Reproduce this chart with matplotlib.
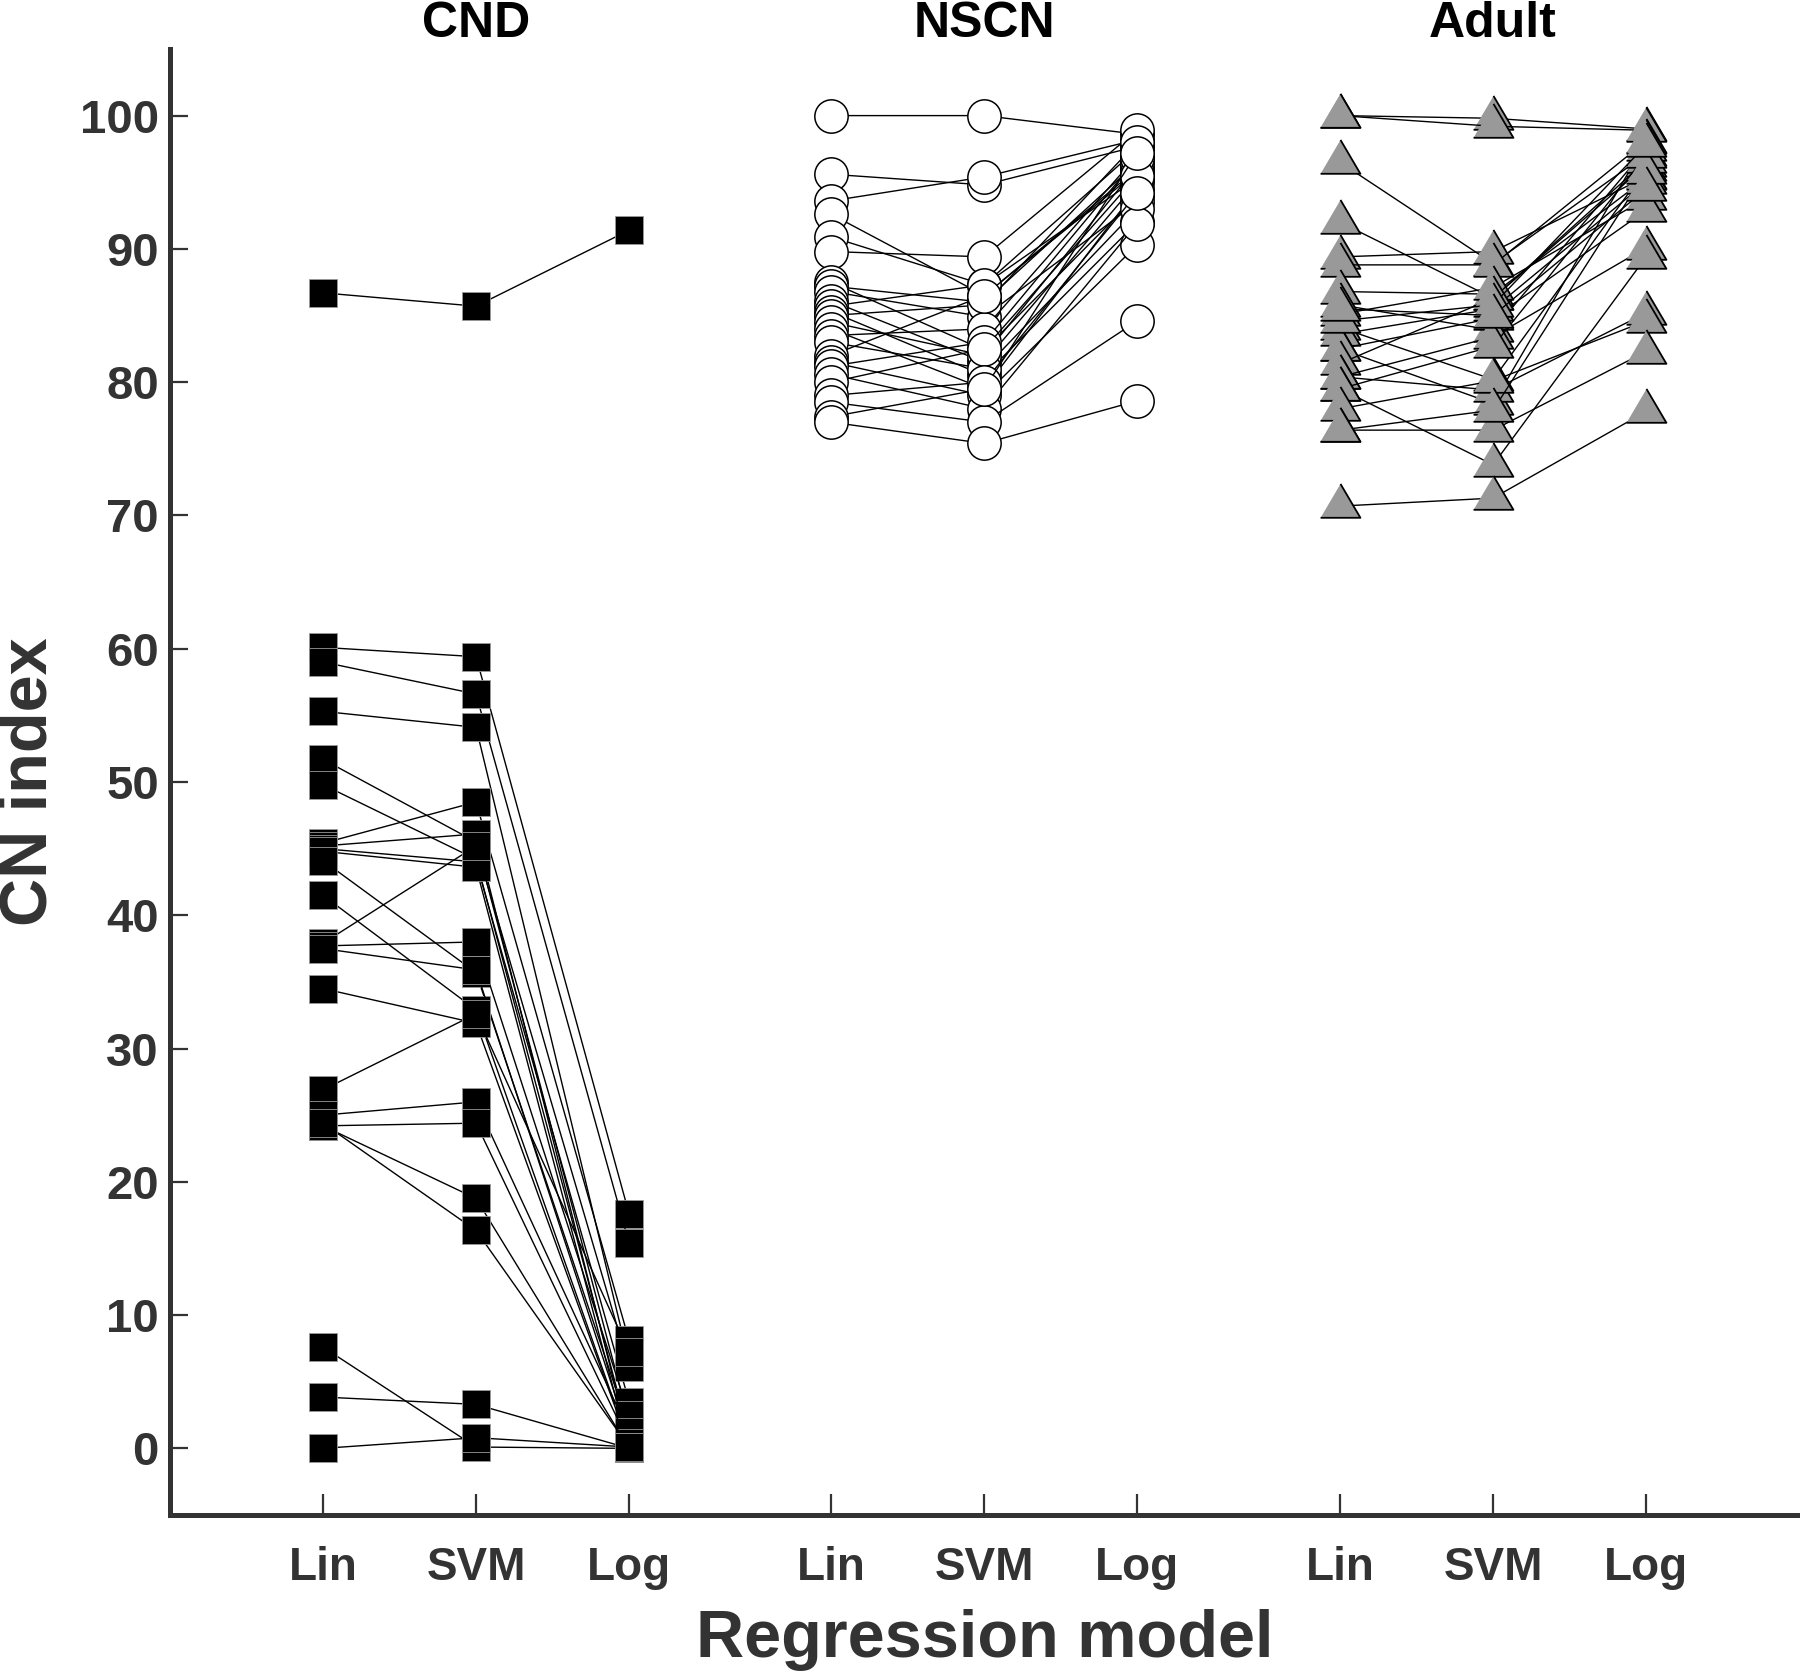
import numpy as np
import matplotlib
matplotlib.use('Agg')
import matplotlib.pyplot as plt

plt.rcParams['font.family'] = ['Liberation Sans', 'DejaVu Sans']

groups = ['CND', 'NSCN', 'Adult']
models = ['Lin', 'SVM', 'Log']

# CN index per subject (Lin, SVM, Log)
cnd_lin = [86.7, 60.1, 59.0, 55.3, 51.7, 49.8, 45.4, 45.2, 45.0, 44.8, 44.1, 41.5,
           37.9, 37.7, 37.5, 34.5, 26.9, 25.0, 24.2, 24.2, 24.4, 7.6, 3.85, 0.0]
cnd_svm = [85.7, 59.4, 56.6, 54.1, 45.5, 44.2, 48.5, 46.1, 44.0, 43.6, 35.7, 32.9,
           45.2, 38.0, 35.9, 31.9, 32.6, 26.0, 24.4, 18.75, 16.35, 0.1, 3.3, 0.8]
cnd_log = [91.4, 17.6, 15.4, 6.5, 2.0, 1.0, 8.1, 0.5, 3.5, 0.0, 1.5, 0.3,
           6.1, 2.5, 0.8, 0.2, 7.2, 1.2, 0.4, 0.0, 0.1, 0.0, 0.0, 0.1]

nscn_lin = [100.0, 95.6, 93.6, 92.6, 90.9, 89.8, 87.5, 87.2, 86.8, 86.1, 85.7, 85.3, 85.0,
            84.5, 84.0, 83.5, 83.0, 82.0, 81.5, 81.2, 80.6, 80.0, 79.0, 78.5, 77.4, 77.0]
nscn_svm = [100.0, 94.8, 95.4, 86.5, 87.3, 89.4, 82.4, 86.0, 84.9, 81.5, 87.3, 80.5, 85.8,
            82.0, 79.5, 84.0, 81.0, 86.5, 79.0, 83.0, 78.0, 82.5, 80.0, 77.0, 79.5, 75.4]
nscn_log = [98.6, 97.7, 98.2, 96.0, 95.3, 98.9, 94.0, 96.5, 93.5, 95.0, 97.5, 92.0, 98.0,
            96.2, 94.5, 97.0, 93.0, 95.8, 90.3, 96.8, 91.9, 95.5, 94.2, 84.6, 97.2, 78.6]

adult_lin = [100.0, 100.0, 96.5, 92.0, 89.4, 88.8, 86.8, 85.8, 85.1, 84.1, 83.6, 82.5,
             82.5, 81.4, 80.4, 80.4, 79.5, 79.5, 78.0, 76.4, 76.4, 70.7, 84.6, 85.5]
adult_svm = [99.8, 99.2, 88.9, 86.3, 89.8, 88.8, 86.6, 83.9, 87.1, 80.2, 85.5, 84.8,
             78.4, 86.3, 83.4, 79.4, 73.8, 82.7, 80.1, 76.4, 77.9, 71.3, 85.8, 85.0]
adult_log = [99.0, 98.9, 97.1, 96.3, 95.4, 98.1, 95.3, 97.5, 93.8, 96.0, 95.0, 92.9,
             98.0, 96.6, 90.1, 85.2, 89.4, 97.0, 84.6, 82.3, 95.8, 77.8, 97.8, 94.5]

xpos = [[1, 2, 3], [4.32, 5.32, 6.32], [7.645, 8.645, 9.645]]

# triangle with its centroid on the data point
tri = [(-1, -0.567), (1, -0.567), (0, 1.133)]

fig = plt.figure(figsize=(18, 16.77), dpi=100)
ax = fig.add_axes([0.0944, 0.0966, 0.9056, 0.8742])

data = [(cnd_lin, cnd_svm, cnd_log), (nscn_lin, nscn_svm, nscn_log),
        (adult_lin, adult_svm, adult_log)]
styles = [dict(marker='s', markersize=19.5, markerfacecolor='black', markeredgecolor='#9a9a9a', markeredgewidth=0.6),
          dict(marker='o', markersize=24, markerfacecolor='white', markeredgecolor='black', markeredgewidth=1.1),
          dict(marker=tri, markersize=32.5, markerfacecolor='#999999', markeredgecolor='black', markeredgewidth=1.3)]

for g in range(3):
    lin, svm, log = data[g]
    for i in range(len(lin)):
        ax.plot(xpos[g], [lin[i], svm[i], log[i]], color='black', linewidth=1.0,
                clip_on=False, **styles[g])

ax.set_xlim(0, 10.65)
ax.set_ylim(-5, 105)
ax.set_yticks(np.arange(0, 101, 10))
ax.set_xticks([x for row in xpos for x in row])
ax.set_xticklabels(models * 3)

for s in ['top', 'right']:
    ax.spines[s].set_visible(False)
for s in ['left', 'bottom']:
    ax.spines[s].set_linewidth(3.6)
    ax.spines[s].set_color('#333333')

ax.tick_params(axis='y', direction='in', length=13, width=1.6, color='#333333',
               labelsize=34, labelcolor='#333333', pad=8)
ax.tick_params(axis='x', direction='in', length=15, width=1.6, color='#333333',
               labelsize=33, labelcolor='#333333', pad=22)
for lab in ax.get_xticklabels() + ax.get_yticklabels():
    lab.set_fontweight('bold')

for g in range(3):
    ax.text(xpos[g][1], 106.9, groups[g], ha='center', va='center', fontsize=36,
            fontweight='bold', color='black', clip_on=False)

ax.set_xlabel('Regression model', fontsize=48, fontweight='bold', color='#333333', labelpad=14)
ax.set_ylabel('CN index', fontsize=48, fontweight='bold', color='#333333', labelpad=14)

fig.savefig('out.png', dpi=100)
